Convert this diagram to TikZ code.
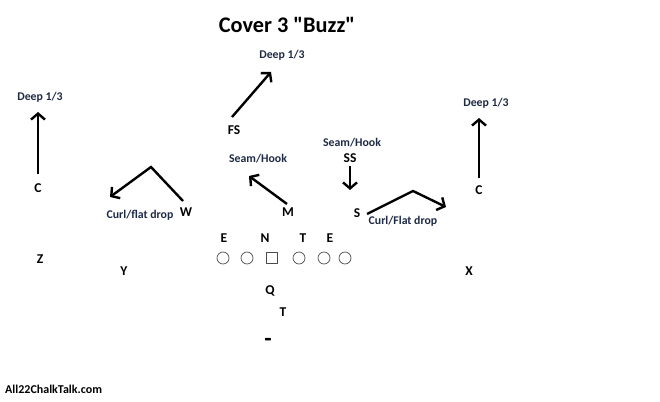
\documentclass[tikz,border=0pt]{standalone}
\usepackage{fontspec}
\setmainfont{Carlito}[Ligatures=TeXOff]
\usetikzlibrary{arrows.meta}
\definecolor{navy}{HTML}{1E2A45}
\tikzset{
  lbl/.style={font=\bfseries\fontsize{11.8}{13}\selectfont, text=navy, inner sep=0pt},
  plyr/.style={font=\bfseries\fontsize{13.5}{15}\selectfont, text=black, inner sep=0pt},
  route/.style={line width=2.4pt, -{Straight Barb[length=6pt,width=14pt,line width=2.4pt]}},
  lman/.style={draw=black!70, line width=0.7pt, minimum size=12pt, inner sep=0pt},
}
\begin{document}
\begin{tikzpicture}[x=1pt,y=-1pt]
\useasboundingbox (0,0) rectangle (660,401);
% title
\node[font=\bfseries\fontsize{22.3}{25}\selectfont, inner sep=0pt] (title) at (287,25) {Cover 3 "Buzz"};
% FS
\node[plyr] (FS) at (234,130) {FS};
\node[lbl] (deepFS) at (282,55) {Deep 1/3};
\coordinate (fs0) at (232,117);
\coordinate (fs1) at (271,72);
\draw[route] (fs0) -- (fs1);
% left corner
\node[plyr] (CL) at (38,188) {C};
\node[lbl] (deepL) at (40,97) {Deep 1/3};
\coordinate (cl0) at (38,174);
\coordinate (cl1) at (38,112);
\draw[route] (cl0) -- (cl1);
% right corner
\node[plyr] (CR) at (479,190) {C};
\node[lbl] (deepR) at (486,103) {Deep 1/3};
\coordinate (cr0) at (479,178);
\coordinate (cr1) at (479,118);
\draw[route] (cr0) -- (cr1);
% W
\node[plyr] (W) at (186,212) {W};
\node[lbl] (curlW) at (140,215) {Curl/flat drop};
\coordinate (w0) at (183,201);
\coordinate (w1) at (151,167);
\coordinate (w2) at (110,197);
\draw[route] (w0) -- (w1) -- (w2);
% M
\node[plyr] (M) at (288,212) {M};
\node[lbl] (seamM) at (258,159) {Seam/Hook};
\coordinate (m0) at (287,204);
\coordinate (m1) at (249,176);
\draw[route] (m0) -- (m1);
% SS
\node[lbl] (seamSS) at (352,143) {Seam/Hook};
\node[plyr] (SS) at (350,158) {SS};
\coordinate (ss0) at (350,166);
\coordinate (ss1) at (350,190);
\draw[route] (ss0) -- (ss1);
% S
\node[plyr] (S) at (357,213) {S};
\node[lbl] (curlS) at (403,221) {Curl/Flat drop};
\coordinate (s0) at (367,214);
\coordinate (s1) at (413,191);
\coordinate (s2) at (446,207);
\draw[route] (s0) -- (s1) -- (s2);
% line labels
\node[plyr] (E1) at (224,238) {E};
\node[plyr] (N) at (265,238) {N};
\node[plyr] (T1) at (303,238) {T};
\node[plyr] (E2) at (330,238) {E};
% OL
\node[lman, circle] (o1) at (223,258) {};
\node[lman, circle] (o2) at (247,258) {};
\node[lman, rectangle, minimum size=11.5pt] (ctr) at (272,258) {};
\node[lman, circle] (o3) at (299,258) {};
\node[lman, circle] (o4) at (324,258) {};
\node[lman, circle] (o5) at (345,258) {};
% skill
\node[plyr] (Z) at (40,259) {Z};
\node[plyr] (Y) at (124,271) {Y};
\node[plyr] (X) at (469,271) {X};
\node[plyr] (Q) at (270,291) {Q};
\node[plyr] (T2) at (283,312) {T};
\node[font=\bfseries\fontsize{24}{26}\selectfont, inner sep=0pt] (dash) at (268,342) {-};
% footer
\node[font=\bfseries\fontsize{12}{14}\selectfont, anchor=west, inner sep=0pt] (site) at (5,389) {All22ChalkTalk.com};
\end{tikzpicture}
\end{document}
